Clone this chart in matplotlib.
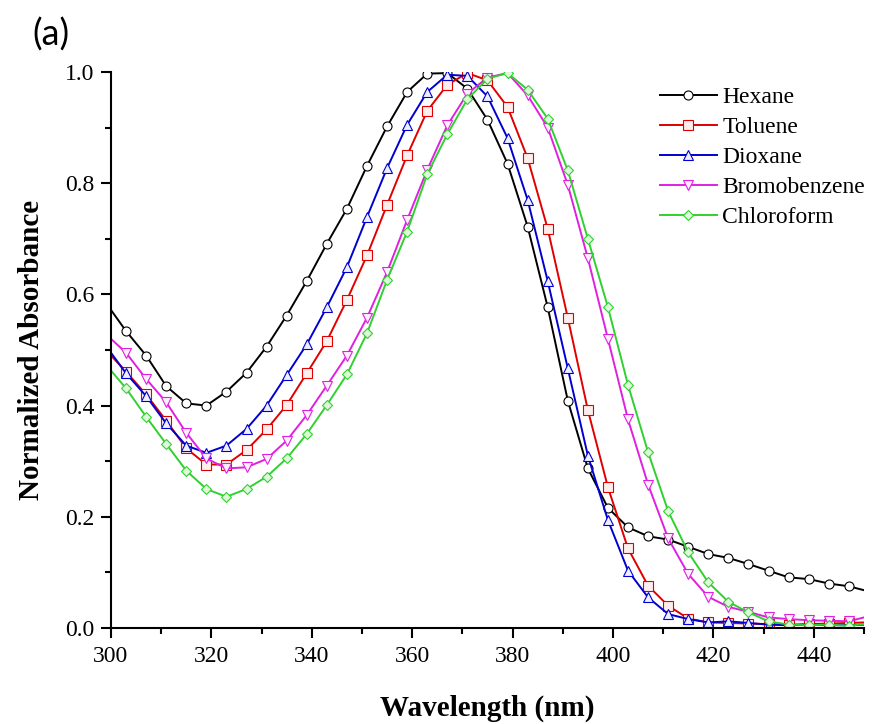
import numpy as np
import matplotlib.pyplot as plt

# wavelength (nm): plot ends + marker positions every 4 nm
wl = [300] + list(range(303, 448, 4)) + [450]

hexane = [0.572, 0.534, 0.490, 0.435, 0.404, 0.400, 0.425, 0.459, 0.506, 0.562,
          0.624, 0.691, 0.754, 0.831, 0.902, 0.964, 0.997, 0.998, 0.970, 0.914,
          0.835, 0.722, 0.577, 0.409, 0.287, 0.216, 0.181, 0.165, 0.159, 0.146,
          0.133, 0.126, 0.115, 0.103, 0.091, 0.088, 0.080, 0.075, 0.068]
toluene = [0.490, 0.461, 0.420, 0.373, 0.323, 0.294, 0.294, 0.320, 0.357, 0.401,
           0.458, 0.516, 0.590, 0.670, 0.761, 0.850, 0.930, 0.977, 0.998, 0.985,
           0.937, 0.845, 0.718, 0.558, 0.392, 0.253, 0.143, 0.076, 0.040, 0.017,
           0.010, 0.009, 0.008, 0.007, 0.006, 0.007, 0.008, 0.009, 0.010]
dioxane = [0.495, 0.458, 0.417, 0.368, 0.328, 0.315, 0.328, 0.358, 0.400, 0.455,
           0.510, 0.577, 0.649, 0.739, 0.827, 0.905, 0.964, 0.995, 0.993, 0.956,
           0.881, 0.770, 0.624, 0.467, 0.310, 0.194, 0.103, 0.055, 0.025, 0.016,
           0.010, 0.012, 0.009, 0.006, 0.005, 0.006, 0.005, 0.005, 0.006]
bromobenzene = [0.520, 0.495, 0.448, 0.406, 0.351, 0.305, 0.287, 0.289, 0.304, 0.337,
                0.383, 0.436, 0.490, 0.558, 0.640, 0.734, 0.824, 0.904, 0.961, 0.990,
                0.998, 0.958, 0.900, 0.797, 0.665, 0.520, 0.375, 0.258, 0.161, 0.097,
                0.056, 0.038, 0.029, 0.019, 0.016, 0.014, 0.013, 0.012, 0.019]
chloroform = [0.463, 0.431, 0.380, 0.331, 0.283, 0.250, 0.236, 0.250, 0.272, 0.305,
              0.349, 0.401, 0.456, 0.530, 0.626, 0.713, 0.816, 0.888, 0.951, 0.988,
              0.998, 0.968, 0.916, 0.823, 0.700, 0.577, 0.437, 0.316, 0.210, 0.136,
              0.082, 0.047, 0.028, 0.012, 0.006, 0.005, 0.006, 0.004, 0.007]

series = [
    ("Hexane", hexane, "#000000", "o", "white"),
    ("Toluene", toluene, "#e00000", "s", "#fdeeee"),
    ("Dioxane", dioxane, "#0000d0", "^", "#eeeeff"),
    ("Bromobenzene", bromobenzene, "#e020e0", "v", "#fdeefd"),
    ("Chloroform", chloroform, "#30d030", "D", "#def8da"),
]

plt.rcParams['font.family'] = 'Liberation Serif'
fig = plt.figure(figsize=(8.78, 7.24), dpi=100)
ax = fig.add_axes([0.1264, 0.1326, 0.8576, 0.768])

for name, y, c, m, fc in series:
    ms = 5.5 if m == "D" else 6.5
    ax.plot(wl, y, color=c, lw=1.4, marker=m, ms=ms, mfc=fc, mec=c,
            mew=0.8, markevery=slice(1, -1), label=name)

ax.set_xlim(300, 450)
ax.set_ylim(0, 1.0)
ax.set_xticks(np.arange(300, 441, 20))
ax.set_xticks(np.arange(310, 451, 20), minor=True)
ax.set_yticks(np.arange(0, 1.01, 0.2))
ax.set_yticks(np.arange(0.1, 1.0, 0.2), minor=True)
ax.yaxis.set_major_formatter(plt.FormatStrFormatter('%.1f'))
ax.spines['top'].set_visible(False)
ax.spines['right'].set_visible(False)
for s in ['left', 'bottom']:
    ax.spines[s].set_linewidth(1.5)
ax.tick_params(which='major', direction='out', length=7, width=1.5, labelsize=17)
ax.tick_params(which='minor', direction='out', length=4, width=1.5)
ax.tick_params(axis='x', pad=6)
ax.tick_params(axis='y', pad=5)

ax.set_xlabel("Wavelength (nm)", fontsize=21, fontweight='bold', labelpad=20)
ax.set_ylabel("Normalized Absorbance", fontsize=21, fontweight='bold', labelpad=14)

ax.legend(loc='upper left', bbox_to_anchor=(0.729, 0.974), frameon=False,
          fontsize=17, handlelength=2.4, handletextpad=0.25, labelspacing=0.36,
          borderpad=0, borderaxespad=0)

fig.text(0.037, 0.952, "(a)", fontsize=26, family='Lato', va='center')

fig.savefig("out.png", dpi=100)
